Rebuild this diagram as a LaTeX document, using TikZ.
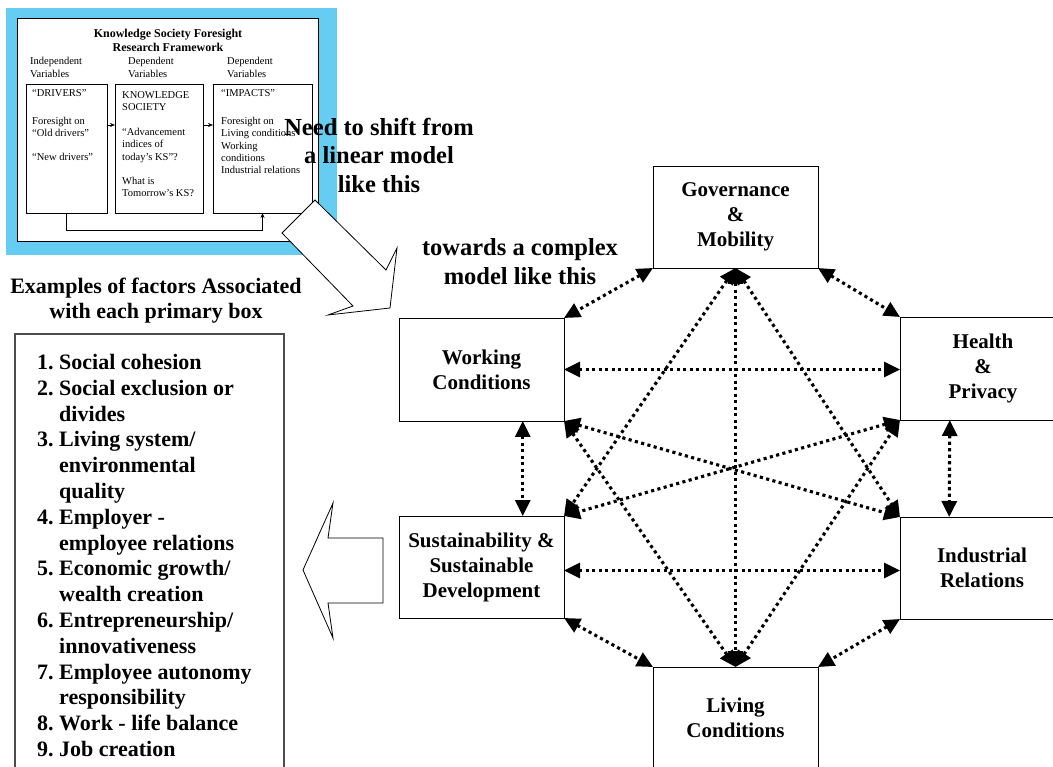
\documentclass[tikz,border=0pt]{standalone}
\usepackage{fontspec}
\setmainfont{Liberation Serif}
\usetikzlibrary{arrows.meta,calc}
\definecolor{skyb}{RGB}{102,204,242}
\begin{document}
\begin{tikzpicture}[x=1pt,y=-1pt,
  box/.style={draw, line width=0.9pt, inner sep=0pt, outer sep=0pt, align=center,
    font=\bfseries\fontsize{21}{25}\selectfont},
  conn/.style={line width=3.1pt, dash pattern=on 3.1pt off 3.4pt,
    {Triangle[length=16pt,width=15pt]}-{Triangle[length=16pt,width=15pt]}},
  ibox/.style={draw, line width=0.6pt, inner sep=0pt, outer sep=0pt, anchor=north west},
  itext/.style={font=\fontsize{10.5}{12.2}\selectfont, align=left, inner sep=0pt, anchor=west},
  ihead/.style={font=\bfseries\fontsize{12}{14}\selectfont, align=center, inner sep=0pt},
  iarrow/.style={line width=0.6pt, -{Stealth[length=5pt,width=4pt]}},
  big/.style={font=\bfseries\fontsize{24.5}{28.5}\selectfont, align=center, inner sep=0pt},
  blockarrow/.style={draw, line width=0.8pt, fill=white, line join=miter},
]
\useasboundingbox (0,0) rectangle (1053,767);
\clip (0,0) rectangle (1053,767);

% ---------- inset: linear model ----------
\fill[skyb] (6,8) rectangle (337,255);
\draw[fill=white, line width=0.6pt] (17,18) rectangle (318,241);
\node[ihead] (ititle) at (168,40) {Knowledge Society Foresight\\Research Framework};
\node[itext] (h1) at (30,67.5) {Independent\\Variables};
\node[itext] (h2) at (128,67.5) {Dependent\\Variables};
\node[itext] (h3) at (227,67.5) {Dependent\\Variables};
\node[ibox, minimum width=81pt, minimum height=129pt] (b1) at (26,84) {};
\node[ibox, minimum width=88pt, minimum height=129pt] (b2) at (115,84) {};
\node[ibox, minimum width=99pt, minimum height=129pt] (b3) at (213,84) {};
\node[itext] (t1) at (32,125) {“DRIVERS”\\[16pt]Foresight on\\“Old drivers”\\[12pt]“New drivers”};
\node[itext] (t2) at (122,144) {KNOWLEDGE\\SOCIETY\\[13pt]“Advancement\\indices of\\today’s KS”?\\[12pt]What is\\Tomorrow’s KS?};
\node[itext] (t3) at (221,131.5) {“IMPACTS”\\[16pt]Foresight on\\Living conditions\\Working\\conditions\\Industrial relations};
\draw[iarrow] ($(b1.north east)+(0,41)$) -- ($(b2.north west)+(0,41)$);
\draw[iarrow] ($(b2.north east)+(0,41)$) -- ($(b3.north west)+(0,41)$);
\draw[iarrow] (b1.south) -- ++(0,17) -| (b3.south);

% ---------- captions ----------
\node[big] (shift) at (379,155) {Need to shift from\\a linear model\\like this};
\node[big] (towards) at (520,261.5) {towards a complex\\model like this};
\node[font=\bfseries\fontsize{22}{25}\selectfont, align=center, inner sep=0pt] (extitle) at (156,300.5)
  {Examples of factors Associated\\with each primary box};

% ---------- block arrows ----------
\draw[blockarrow] (315,200) -- (386,270) -- (397,248) -- (390,308) -- (328,315) -- (353,306) -- (282,233) -- cycle;
\draw[blockarrow] (303,570) -- (333,503) -- (328,538) -- (383,538) -- (383,603) -- (328,603) -- (333,638) -- cycle;

% ---------- list ----------
\draw[draw=black!70, line width=1.2pt] (15,334) rectangle (284,775);
\node[font=\bfseries\fontsize{22}{25.8}\selectfont, align=left, inner sep=0pt, anchor=west] (list) at (37,555.5)
  {\makebox[22pt][l]{1.}Social cohesion\\
   \makebox[22pt][l]{2.}Social exclusion or\\
   \hspace*{22pt}divides\\
   \makebox[22pt][l]{3.}Living system/\\
   \hspace*{22pt}environmental\\
   \hspace*{22pt}quality\\
   \makebox[22pt][l]{4.}Employer -\\
   \hspace*{22pt}employee relations\\
   \makebox[22pt][l]{5.}Economic growth/\\
   \hspace*{22pt}wealth creation\\
   \makebox[22pt][l]{6.}Entrepreneurship/\\
   \hspace*{22pt}innovativeness\\
   \makebox[22pt][l]{7.}Employee autonomy\\
   \hspace*{22pt}responsibility\\
   \makebox[22pt][l]{8.}Work - life balance\\
   \makebox[22pt][l]{9.}Job creation};

% ---------- complex model ----------
\node[box, minimum width=165pt, minimum height=102pt] (gov) at (735.5,217) {Governance\\\&\\Mobility};
\node[box, minimum width=165pt, minimum height=103pt] (work) at (481.5,369.5) {Working\\Conditions};
\node[box, minimum width=166pt, minimum height=103pt] (health) at (983,368.5) {Health\\\&\\Privacy};
\node[box, minimum width=165pt, minimum height=102pt] (sust) at (481.5,567) {Sustainability \&\\Sustainable\\Development};
\node[box, minimum width=164pt, minimum height=102pt] (ind) at (982,568) {Industrial\\Relations};
\node[box, minimum width=165pt, minimum height=102pt] (liv) at (735.5,718) {Living\\Conditions};

\coordinate (wsv) at ($(work.south west)!0.75!(work.south east)$);
\coordinate (snv) at ($(sust.north west)!0.75!(sust.north east)$);
\coordinate (hsv) at ($(health.south west)!0.3!(health.south east)$);
\coordinate (inv) at ($(ind.north west)!0.3!(ind.north east)$);
\coordinate (seh) at ($(sust.east)+(0,3.5)$);

\draw[conn] (gov.south west) -- (work.north east);
\draw[conn] (gov.south east) -- (health.north west);
\draw[conn] (work.east) -- (work.east -| health.west);
\draw[conn] (wsv) -- (snv);
\draw[conn] (hsv) -- (inv);
\draw[conn] (seh) -- (seh -| ind.west);
\draw[conn] (sust.south east) -- (liv.north west);
\draw[conn] (ind.south west) -- (liv.north east);
\draw[conn] (gov.south) -- (liv.north);
\draw[conn] (gov.south) -- (sust.north east);
\draw[conn] (gov.south) -- (ind.north west);
\draw[conn] (liv.north) -- (work.south east);
\draw[conn] (liv.north) -- (health.south west);
\draw[conn] (work.south east) -- (ind.north west);
\draw[conn] (health.south west) -- (sust.north east);
\end{tikzpicture}
\end{document}
